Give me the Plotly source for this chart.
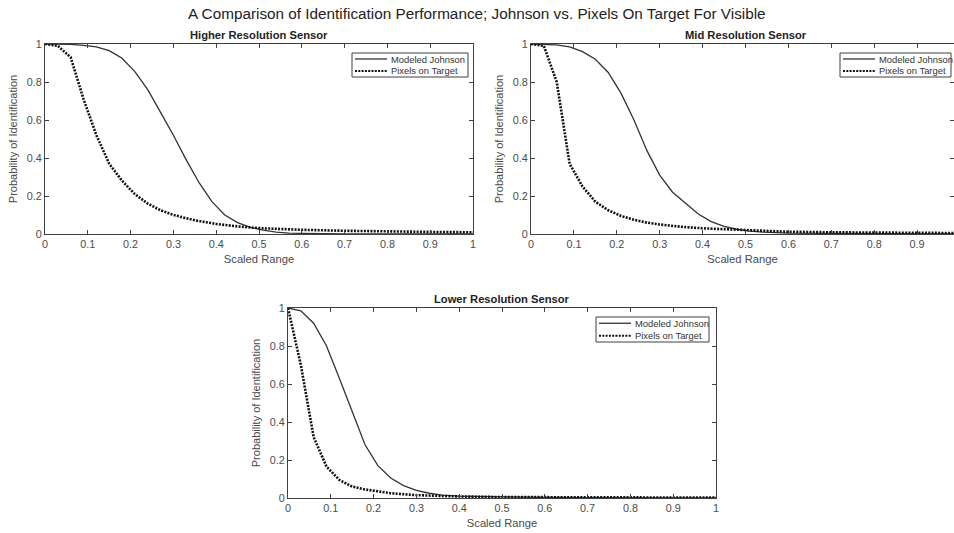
import plotly.graph_objects as go

# ---------------- data ----------------
hi_x_johnson = [0, 0.03, 0.06, 0.09, 0.12, 0.15, 0.18, 0.21, 0.24, 0.27, 0.30, 0.33, 0.36, 0.39,
                0.42, 0.45, 0.48, 0.51, 0.54, 0.57, 0.60, 0.70, 0.80, 0.90, 1.0]
hi_y_johnson = [1.0, 1.0, 0.998, 0.993, 0.985, 0.965, 0.925, 0.855, 0.76, 0.64, 0.52, 0.39, 0.27, 0.17,
                0.10, 0.06, 0.035, 0.02, 0.01, 0.005, 0.003, 0.001, 0.0005, 0.0003, 0.0002]
hi_x_pixels = [0, 0.03, 0.06, 0.09, 0.12, 0.15, 0.18, 0.21, 0.24, 0.27, 0.30, 0.35, 0.40, 0.45,
               0.50, 0.60, 0.70, 0.80, 0.90, 1.0]
hi_y_pixels = [1.0, 0.99, 0.93, 0.71, 0.52, 0.37, 0.28, 0.21, 0.16, 0.125, 0.10, 0.072, 0.053, 0.04,
               0.031, 0.022, 0.017, 0.013, 0.011, 0.009]

mid_x_johnson = [0, 0.03, 0.06, 0.09, 0.12, 0.15, 0.18, 0.21, 0.24, 0.27, 0.30, 0.33, 0.36, 0.39,
                 0.42, 0.45, 0.48, 0.51, 0.54, 0.60, 0.70, 0.80, 0.90, 1.0]
mid_y_johnson = [1.0, 0.999, 0.995, 0.985, 0.96, 0.92, 0.85, 0.74, 0.60, 0.44, 0.31, 0.22, 0.16, 0.105,
                 0.065, 0.04, 0.025, 0.015, 0.01, 0.005, 0.003, 0.002, 0.001, 0.001]
mid_x_pixels = [0, 0.03, 0.06, 0.09, 0.12, 0.15, 0.18, 0.21, 0.24, 0.27, 0.30, 0.35, 0.40, 0.50,
                0.60, 0.70, 0.80, 0.90, 1.0]
mid_y_pixels = [1.0, 0.99, 0.80, 0.37, 0.25, 0.17, 0.125, 0.095, 0.075, 0.06, 0.05, 0.038, 0.03, 0.02,
                0.012, 0.009, 0.007, 0.006, 0.005]

lo_x_johnson = [0, 0.03, 0.06, 0.09, 0.12, 0.15, 0.18, 0.21, 0.24, 0.27, 0.30, 0.33, 0.36, 0.40,
                0.50, 0.60, 0.70, 0.80, 0.90, 1.0]
lo_y_johnson = [1.0, 0.985, 0.92, 0.80, 0.63, 0.46, 0.28, 0.17, 0.105, 0.065, 0.04, 0.025, 0.015, 0.01,
                0.005, 0.003, 0.002, 0.001, 0.001, 0.001]
lo_x_pixels = [0, 0.03, 0.06, 0.09, 0.12, 0.15, 0.18, 0.21, 0.24, 0.30, 0.40, 0.50, 0.60, 0.70,
               0.80, 0.90, 1.0]
lo_y_pixels = [1.0, 0.70, 0.32, 0.165, 0.095, 0.06, 0.045, 0.033, 0.025, 0.015, 0.008, 0.005, 0.004,
               0.003, 0.002, 0.002, 0.002]

main_title = "A Comparison of Identification Performance; Johnson vs. Pixels On Target For Visible"
subplot_titles = ["Higher Resolution Sensor", "Mid Resolution Sensor", "Lower Resolution Sensor"]
series_names = ["Modeled Johnson", "Pixels on Target"]
x_ticks = [0, 0.1, 0.2, 0.3, 0.4, 0.5, 0.6, 0.7, 0.8, 0.9, 1]
x_tick_text = ["0", "0.1", "0.2", "0.3", "0.4", "0.5", "0.6", "0.7", "0.8", "0.9", "1"]
y_ticks = [0, 0.2, 0.4, 0.6, 0.8, 1]
y_tick_text = ["0", "0.2", "0.4", "0.6", "0.8", "1"]

# ---------------- figure ----------------
W, H = 954, 533
FONT = "Liberation Sans, Arial, sans-serif"
AX = "#404040"
LBL = "#4a4a4a"
SOLID = dict(color="#333333", width=1.3)
DOTTED = dict(color="#111111", width=2.6, dash="2px,1.3px")

panels = [
    dict(xs=(hi_x_johnson, hi_x_pixels), ys=(hi_y_johnson, hi_y_pixels),
         xdom=(45, 473), ydom=(44, 234), xr=[0, 1], leg=(352, 468, 53, 77)),
    dict(xs=(mid_x_johnson, mid_x_pixels), ys=(mid_y_johnson, mid_y_pixels),
         xdom=(531, 954), ydom=(44, 234), xr=[0, 0.986], leg=(840, 951, 53, 77)),
    dict(xs=(lo_x_johnson, lo_x_pixels), ys=(lo_y_johnson, lo_y_pixels),
         xdom=(288, 716), ydom=(308, 498), xr=[0, 1], leg=(596, 709, 317, 342)),
]


def px(x):
    return x / W


def py(y):
    return 1 - y / H


fig = go.Figure()
layout = dict(width=W, height=H, margin=dict(l=0, r=0, t=0, b=0, autoexpand=False),
              paper_bgcolor="white", plot_bgcolor="white",
              font=dict(family=FONT, size=11, color=AX), showlegend=False)
annotations = [dict(text=main_title, x=0.5, y=py(13), xref="paper", yref="paper",
                    showarrow=False, font=dict(size=15.3, color="#222222", family=FONT),
                    xanchor="center", yanchor="middle")]
shapes = []

for i, p in enumerate(panels):
    suffix = "" if i == 0 else str(i + 1)
    xa, ya = "x" + suffix, "y" + suffix
    fig.add_trace(go.Scatter(x=p["xs"][0], y=p["ys"][0], mode="lines", name=series_names[0],
                             line=SOLID, xaxis=xa, yaxis=ya))
    fig.add_trace(go.Scatter(x=p["xs"][1], y=p["ys"][1], mode="lines", name=series_names[1],
                             line=DOTTED, xaxis=xa, yaxis=ya))
    common = dict(showgrid=False, zeroline=False, showline=True, linecolor=AX, linewidth=1,
                  mirror="ticks", ticks="inside", ticklen=4, tickcolor=AX,
                  tickfont=dict(size=10.8, color=LBL, family=FONT))
    layout["xaxis" + suffix] = dict(common, domain=[px(p["xdom"][0]), px(p["xdom"][1])],
                                    range=p["xr"], tickvals=x_ticks, ticktext=x_tick_text,
                                    anchor=ya,
                                    title=dict(text="Scaled Range", standoff=6,
                                               font=dict(size=11.2, color=LBL)))
    layout["yaxis" + suffix] = dict(common, domain=[py(p["ydom"][1]), py(p["ydom"][0])],
                                    range=[0, 1], tickvals=y_ticks, ticktext=y_tick_text,
                                    anchor=xa,
                                    title=dict(text="Probability of Identification", standoff=6,
                                               font=dict(size=11, color=LBL)))
    # legend box (drawn in paper space)
    lx0, lx1, ly0, ly1 = p["leg"]
    shapes.append(dict(type="rect", xref="paper", yref="paper", x0=px(lx0), x1=px(lx1),
                       y0=py(ly1), y1=py(ly0), line=dict(color=AX, width=1),
                       fillcolor="white", layer="above"))
    row_h = (ly1 - ly0) / 2
    for k, (name, style) in enumerate(zip(series_names, (SOLID, DOTTED))):
        yy = ly0 + row_h * (k + 0.5)
        st = dict(style)
        if k == 1:
            st["width"] = 2.2
        shapes.append(dict(type="line", xref="paper", yref="paper", x0=px(lx0 + 3),
                           x1=px(lx0 + 35), y0=py(yy), y1=py(yy), line=st, layer="above"))
        annotations.append(dict(text=name, x=px(lx0 + 37), y=py(yy), xref="paper", yref="paper",
                                showarrow=False, xanchor="left", yanchor="middle",
                                font=dict(size=9.4, color="#333333", family=FONT)))
    xc = (p["xdom"][0] + p["xdom"][1]) / 2
    if i == 1:
        xc = (531 + 961) / 2
    annotations.append(dict(text="<b>" + subplot_titles[i] + "</b>", x=px(xc),
                            y=py(p["ydom"][0] - 9), xref="paper", yref="paper",
                            showarrow=False, xanchor="center", yanchor="middle",
                            font=dict(size=11.2, color="#222222", family=FONT)))

layout["annotations"] = annotations
layout["shapes"] = shapes
fig.update_layout(**layout)
fig.write_html("out.html")
